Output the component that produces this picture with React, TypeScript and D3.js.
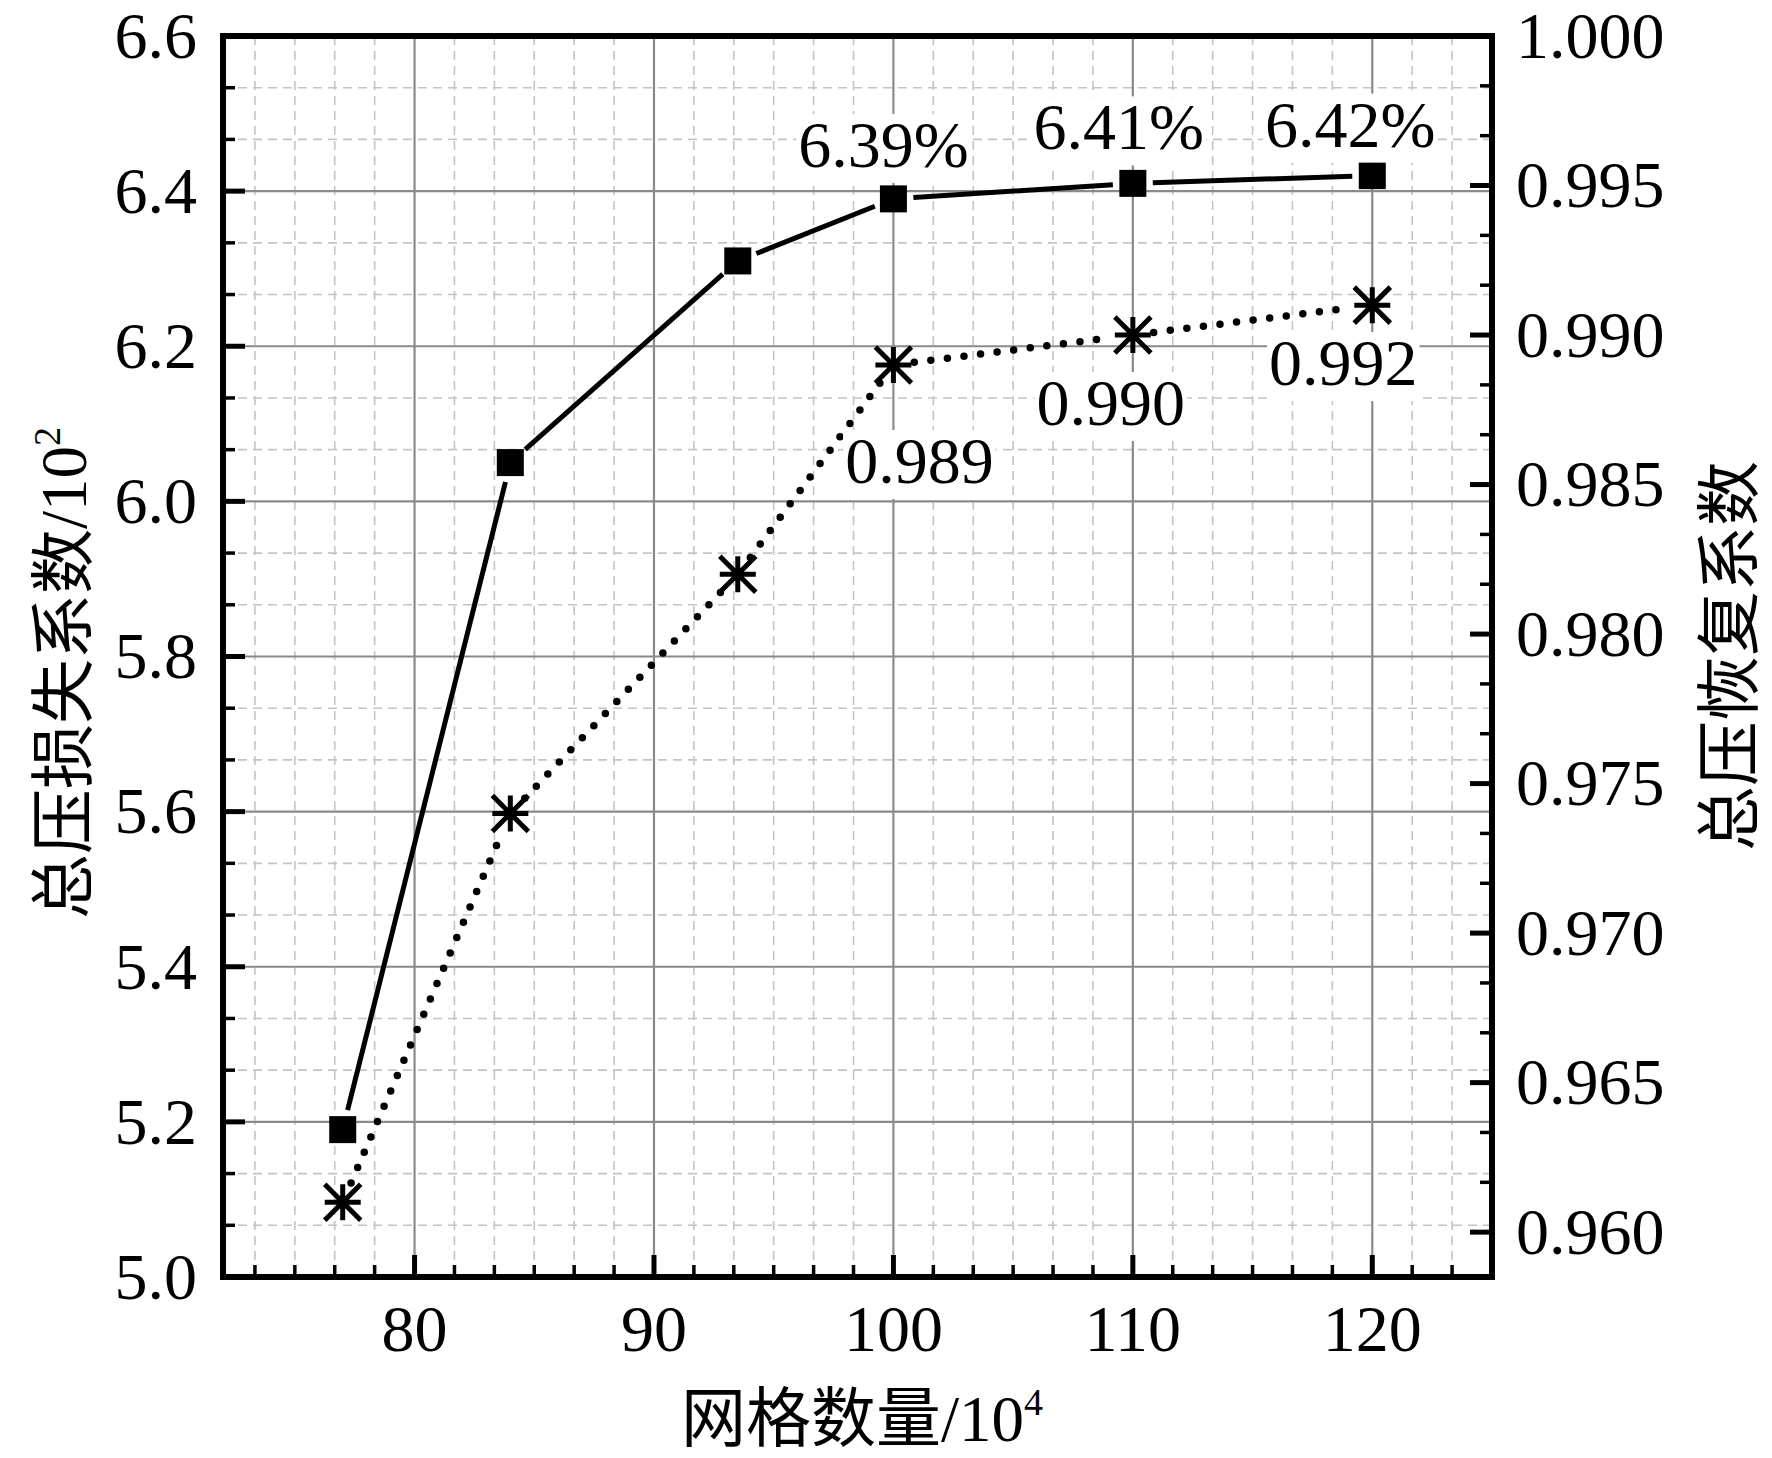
import React, { useEffect, useRef } from 'react';
import * as d3 from 'd3';

// grid count (10^4) vs total pressure loss coefficient (10^2) and recovery coefficient
const gridCount = [77, 84, 93.5, 100, 110, 120];
const lossCoef = [5.19, 6.05, 6.31, 6.39, 6.41, 6.42];
const recoveryCoef = [0.961, 0.974, 0.982, 0.989, 0.99, 0.991];

const xTicks = [80, 90, 100, 110, 120];
const lossTicks = ['5.0', '5.2', '5.4', '5.6', '5.8', '6.0', '6.2', '6.4', '6.6'];
const recoveryTicks = ['0.960', '0.965', '0.970', '0.975', '0.980', '0.985', '0.990', '0.995', '1.000'];

const lossNotes = ['6.39%', '6.41%', '6.42%'];
const recoveryNotes = ['0.989', '0.990', '0.992'];

// label placement relative to the point it belongs to (last three points)
const lossNoteOffset = [[-10, -32], [-14, -34], [-22, -29]];
const recoveryNoteOffset = [[26, 118], [-22, 90], [-29, 80]];

const W = 1772;
const H = 1458;
const SERIF = "'Liberation Serif', 'Times New Roman', 'Noto Sans CJK SC', serif";

const App: React.FC = () => {
  const svgRef = useRef<SVGSVGElement>(null);

  useEffect(() => {
    document.body.style.margin = '0';
    if (!svgRef.current) return;
    const svg = d3.select(svgRef.current);
    svg.selectAll('*').remove();

    const left = 223, right = 1492, top = 36, bottom = 1277;

    const x = d3.scaleLinear().domain([72, 125]).range([left, right]);
    const yL = d3.scaleLinear().domain([5.0, 6.6]).range([bottom, top]);
    const yR = d3.scaleLinear().domain([0.9585, 1.0]).range([bottom, top]);

    const xStep = 10 / 6;
    const xMinor = d3.range(-4, 28).filter(k => k % 6 !== 0)
      .map(k => 80 + k * xStep).filter(v => v > 72 && v < 124.99);
    const lStep = 0.2 / 3;
    const lMinor = d3.range(1, 24).filter(k => k % 3 !== 0).map(k => 5.0 + k * lStep);
    const rStep = 0.005 / 3;
    const rMinor = d3.range(-1, 24).filter(k => k % 3 !== 0)
      .map(k => 0.96 + k * rStep).filter(v => v > 0.9585 && v < 1.0);

    // grid
    const grid = svg.append('g');
    grid.selectAll('.vminor').data(xMinor).enter().append('line')
      .attr('x1', d => x(d)).attr('x2', d => x(d)).attr('y1', top).attr('y2', bottom)
      .attr('stroke', '#c4c4c4').attr('stroke-width', 1.6).attr('stroke-dasharray', '9 6');
    grid.selectAll('.hminor').data(lMinor).enter().append('line')
      .attr('x1', left).attr('x2', right).attr('y1', d => yL(d)).attr('y2', d => yL(d))
      .attr('stroke', '#c4c4c4').attr('stroke-width', 1.6).attr('stroke-dasharray', '9 6');
    grid.selectAll('.vmajor').data(xTicks).enter().append('line')
      .attr('x1', d => x(d)).attr('x2', d => x(d)).attr('y1', top).attr('y2', bottom)
      .attr('stroke', '#8a8a8a').attr('stroke-width', 2.2);
    grid.selectAll('.hmajor').data(lossTicks.map(Number)).enter().append('line')
      .attr('x1', left).attr('x2', right).attr('y1', d => yL(d)).attr('y2', d => yL(d))
      .attr('stroke', '#8a8a8a').attr('stroke-width', 2.2);

    // shortened segments between consecutive points (gap round markers)
    const segments = (pts: [number, number][], gap: number) => {
      const out: [number, number, number, number][] = [];
      for (let i = 0; i < pts.length - 1; i++) {
        const [x1, y1] = pts[i];
        const [x2, y2] = pts[i + 1];
        const len = Math.hypot(x2 - x1, y2 - y1);
        const ux = (x2 - x1) / len, uy = (y2 - y1) / len;
        out.push([x1 + ux * gap, y1 + uy * gap, x2 - ux * gap, y2 - uy * gap]);
      }
      return out;
    };

    const lossPts = gridCount.map((g, i) => [x(g), yL(lossCoef[i])] as [number, number]);
    const recPts = gridCount.map((g, i) => [x(g), yR(recoveryCoef[i])] as [number, number]);

    const lines = svg.append('g');
    lines.selectAll('.solid').data(segments(lossPts, 20)).enter().append('line')
      .attr('x1', d => d[0]).attr('y1', d => d[1]).attr('x2', d => d[2]).attr('y2', d => d[3])
      .attr('stroke', '#000').attr('stroke-width', 5);
    lines.selectAll('.dotted').data(segments(recPts, 21)).enter().append('line')
      .attr('x1', d => d[0]).attr('y1', d => d[1]).attr('x2', d => d[2]).attr('y2', d => d[3])
      .attr('stroke', '#000').attr('stroke-width', 7.5)
      .attr('stroke-linecap', 'round').attr('stroke-dasharray', '0 16.7');

    // markers
    const sq = 27;
    svg.append('g').selectAll('rect').data(lossPts).enter().append('rect')
      .attr('x', d => d[0] - sq / 2).attr('y', d => d[1] - sq / 2)
      .attr('width', sq).attr('height', sq).attr('fill', '#000');

    const r = 18;
    const star = d3.path();
    star.moveTo(-r, 0); star.lineTo(r, 0);
    star.moveTo(0, -r); star.lineTo(0, r);
    star.moveTo(-r, -r); star.lineTo(r, r);
    star.moveTo(-r, r); star.lineTo(r, -r);
    svg.append('g').selectAll('path').data(recPts).enter().append('path')
      .attr('d', star.toString())
      .attr('transform', d => `translate(${d[0]},${d[1]})`)
      .attr('stroke', '#000').attr('stroke-width', 5).attr('fill', 'none');

    // annotations with white boxes
    const note = (text: string, px: number, py: number) => {
      const g = svg.append('g');
      const box = g.append('rect').attr('fill', '#fff');
      const t = g.append('text')
        .attr('x', px).attr('y', py)
        .attr('text-anchor', 'middle')
        .style('font-family', SERIF).style('font-size', '66px')
        .attr('fill', '#000').text(text);
      const b = (t.node() as SVGTextElement).getBBox();
      box.attr('x', b.x - 2).attr('y', b.y + 6).attr('width', b.width + 4).attr('height', b.height - 4);
    };
    lossNotes.forEach((s, i) => {
      const [px, py] = lossPts[3 + i];
      note(s, px + lossNoteOffset[i][0], py + lossNoteOffset[i][1]);
    });
    recoveryNotes.forEach((s, i) => {
      const [px, py] = recPts[3 + i];
      note(s, px + recoveryNoteOffset[i][0], py + recoveryNoteOffset[i][1]);
    });

    // frame
    svg.append('rect')
      .attr('x', left).attr('y', top).attr('width', right - left).attr('height', bottom - top)
      .attr('fill', 'none').attr('stroke', '#000').attr('stroke-width', 6);

    // ticks (inward)
    const ticks = svg.append('g').attr('stroke', '#000');
    ticks.selectAll('.xM').data(xTicks).enter().append('line')
      .attr('x1', d => x(d)).attr('x2', d => x(d)).attr('y1', bottom).attr('y2', bottom - 22)
      .attr('stroke-width', 5);
    ticks.selectAll('.xm').data(xMinor).enter().append('line')
      .attr('x1', d => x(d)).attr('x2', d => x(d)).attr('y1', bottom).attr('y2', bottom - 12)
      .attr('stroke-width', 3.5);
    ticks.selectAll('.lM').data(lossTicks.map(Number)).enter().append('line')
      .attr('x1', left).attr('x2', left + 22).attr('y1', d => yL(d)).attr('y2', d => yL(d))
      .attr('stroke-width', 5);
    ticks.selectAll('.lm').data(lMinor).enter().append('line')
      .attr('x1', left).attr('x2', left + 12).attr('y1', d => yL(d)).attr('y2', d => yL(d))
      .attr('stroke-width', 3.5);
    ticks.selectAll('.rM').data(recoveryTicks.map(Number)).enter().append('line')
      .attr('x1', right).attr('x2', right - 22).attr('y1', d => yR(d)).attr('y2', d => yR(d))
      .attr('stroke-width', 5);
    ticks.selectAll('.rm').data(rMinor).enter().append('line')
      .attr('x1', right).attr('x2', right - 12).attr('y1', d => yR(d)).attr('y2', d => yR(d))
      .attr('stroke-width', 3.5);

    // tick labels
    const labels = svg.append('g')
      .style('font-family', SERIF).style('font-size', '66px').attr('fill', '#000');
    labels.selectAll('.xl').data(xTicks).enter().append('text')
      .attr('x', d => x(d)).attr('y', 1351).attr('text-anchor', 'middle').text(d => String(d));
    labels.selectAll('.ll').data(lossTicks).enter().append('text')
      .attr('x', 197).attr('y', d => yL(Number(d))).attr('dy', '0.33em')
      .attr('text-anchor', 'end').text(d => d);
    labels.selectAll('.rl').data(recoveryTicks).enter().append('text')
      .attr('x', 1516).attr('y', d => yR(Number(d))).attr('dy', '0.33em')
      .attr('text-anchor', 'start').text(d => d);

    // axis titles
    const titleFont = '65px';
    const xt = svg.append('text')
      .attr('x', 862).attr('y', 1441).attr('text-anchor', 'middle')
      .style('font-family', SERIF).style('font-size', titleFont);
    xt.append('tspan').text('网格数量/10');
    xt.append('tspan').attr('dy', -26).style('font-size', '38px').text('4');

    const lt = svg.append('text')
      .attr('transform', 'translate(86,673) rotate(-90)').attr('text-anchor', 'middle')
      .style('font-family', SERIF).style('font-size', titleFont);
    lt.append('tspan').text('总压损失系数/10');
    lt.append('tspan').attr('dy', -26).style('font-size', '38px').text('2');

    svg.append('text')
      .attr('transform', 'translate(1752,656) rotate(-90)').attr('text-anchor', 'middle')
      .style('font-family', SERIF).style('font-size', titleFont)
      .text('总压恢复系数');
  }, []);

  return (
    <svg ref={svgRef} width={W} height={H} style={{ display: 'block', background: '#fff' }} />
  );
};

export default App;
